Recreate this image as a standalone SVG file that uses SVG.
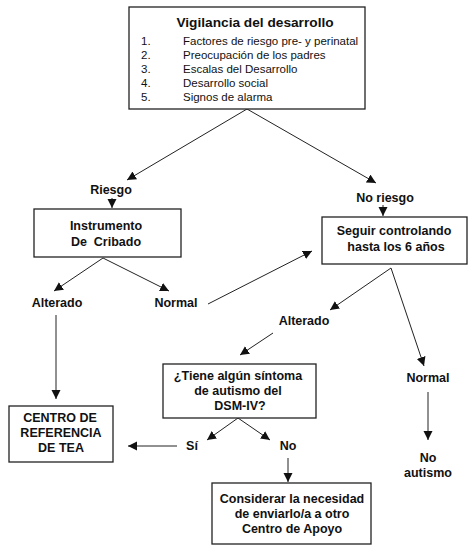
<svg xmlns="http://www.w3.org/2000/svg" width="474" height="551" viewBox="0 0 474 551">
<style>
.box{fill:#fff;stroke:#222;stroke-width:1.3}
.t{font-family:"Liberation Sans",Arial,sans-serif;font-weight:bold;font-size:12.5px;fill:#111;text-anchor:middle}
.r{font-family:"Liberation Sans",Arial,sans-serif;font-size:11.5px;fill:#111}
.c{stroke:#222;stroke-width:1;fill:none;marker-end:url(#ah)}
</style>
<defs>
<marker id="ah" markerUnits="userSpaceOnUse" markerWidth="10" markerHeight="10" refX="9" refY="4.5" orient="auto">
<path d="M0,0 L9,4.5 L0,9 z" fill="#111"/>
</marker>
</defs>
<rect width="474" height="551" fill="#fff"/>
<g id="connectors">
<line class="c" x1="247" y1="109" x2="127" y2="180"/>
<line class="c" x1="247" y1="109" x2="376" y2="183"/>
<line class="c" x1="112" y1="198" x2="112" y2="208"/>
<line class="c" x1="383" y1="205" x2="383" y2="216"/>
<line class="c" x1="103" y1="258" x2="54" y2="291"/>
<line class="c" x1="103" y1="258" x2="169" y2="291"/>
<line class="c" x1="208" y1="304" x2="312" y2="251"/>
<line class="c" x1="391" y1="268" x2="330" y2="310"/>
<line class="c" x1="391" y1="268" x2="424" y2="366"/>
<line class="c" x1="273" y1="333" x2="240" y2="355"/>
<line class="c" x1="56" y1="315" x2="56" y2="399"/>
<line class="c" x1="238" y1="418" x2="207" y2="440"/>
<line class="c" x1="238" y1="418" x2="270" y2="440"/>
<line class="c" x1="177" y1="446" x2="128" y2="446"/>
<line class="c" x1="288" y1="458" x2="288" y2="482"/>
<line class="c" x1="428" y1="392" x2="428" y2="440"/>
</g>
<g id="vigilancia">
<rect class="box" x="129" y="7" width="236" height="102"/>
<text class="t" x="255" y="27" style="font-size:13.7px">Vigilancia del desarrollo</text>
<text class="r" x="141" y="45">1.</text><text class="r" x="183" y="45">Factores de riesgo pre- y perinatal</text>
<text class="r" x="141" y="59">2.</text><text class="r" x="183" y="59">Preocupación de los padres</text>
<text class="r" x="141" y="73">3.</text><text class="r" x="183" y="73">Escalas del Desarrollo</text>
<text class="r" x="141" y="87">4.</text><text class="r" x="183" y="87">Desarrollo social</text>
<text class="r" x="141" y="101">5.</text><text class="r" x="183" y="101">Signos de alarma</text>
</g>
<g id="riesgo"><text class="t" x="111" y="194">Riesgo</text></g>
<g id="noriesgo"><text class="t" x="385" y="202">No riesgo</text></g>
<g id="instrumento">
<rect class="box" x="34" y="209" width="147" height="48"/>
<text class="t" x="106" y="230">Instrumento</text>
<text class="t" x="106" y="246" xml:space="preserve">De  Cribado</text>
</g>
<g id="seguir">
<rect class="box" x="322" y="217" width="145" height="47"/>
<text class="t" x="394" y="235">Seguir controlando</text>
<text class="t" x="396" y="251">hasta los 6 años</text>
</g>
<g id="alterado1"><text class="t" x="57" y="307">Alterado</text></g>
<g id="normal1"><text class="t" x="176" y="307">Normal</text></g>
<g id="alterado2"><text class="t" x="304" y="325">Alterado</text></g>
<g id="tiene">
<rect class="box" x="163" y="364" width="153" height="54"/>
<text class="t" x="238" y="380">¿Tiene algún síntoma</text>
<text class="t" x="238" y="395">de autismo del</text>
<text class="t" x="240" y="410">DSM-IV?</text>
</g>
<g id="normal2"><text class="t" x="428" y="382">Normal</text></g>
<g id="centro">
<rect class="box" x="9" y="406" width="104" height="56"/>
<text class="t" x="60" y="422">CENTRO DE</text>
<text class="t" x="61" y="437">REFERENCIA</text>
<text class="t" x="61" y="452">DE TEA</text>
</g>
<g id="si"><text class="t" x="192" y="450">Sí</text></g>
<g id="no"><text class="t" x="288" y="450">No</text></g>
<g id="noautismo">
<text class="t" x="428" y="462">No</text>
<text class="t" x="428" y="477">autismo</text>
</g>
<g id="considerar">
<rect class="box" x="212" y="483" width="159" height="61"/>
<text class="t" x="292" y="503">Considerar la necesidad</text>
<text class="t" x="292" y="518">de enviarlo/a a otro</text>
<text class="t" x="292" y="533">Centro de Apoyo</text>
</g>
</svg>
